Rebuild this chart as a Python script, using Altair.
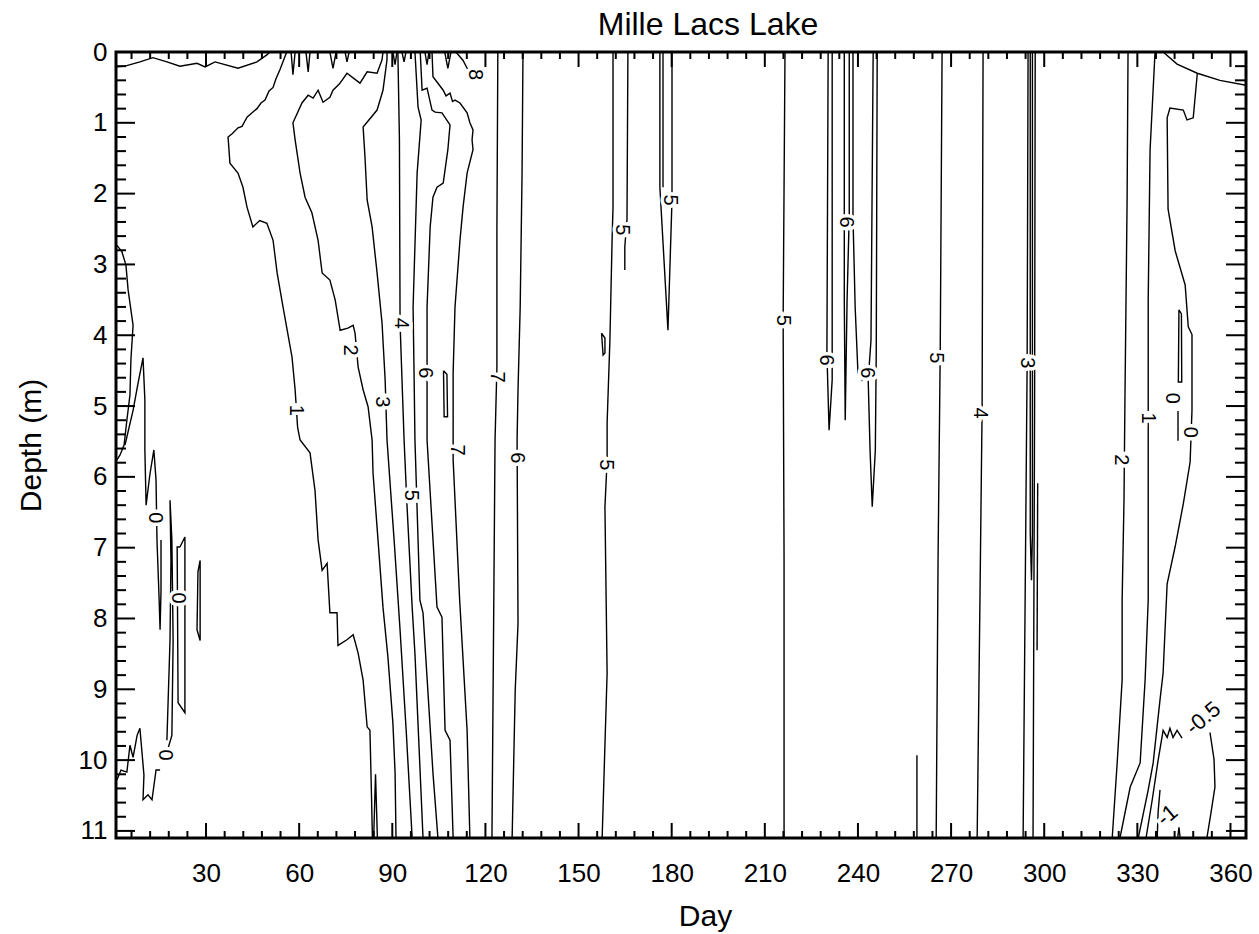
import altair as alt
import pandas as pd

# ---------------- axes ----------------
X_DOMAIN = [1, 365]
Y_DOMAIN = [0, 11.1]
x_tick_labels = [30, 60, 90, 120, 150, 180, 210, 240, 270, 300, 330, 360]
y_tick_labels = [0, 1, 2, 3, 4, 5, 6, 7, 8, 9, 10, 11]
x_major_ticks = [30, 60, 90, 120, 150, 180, 210, 240, 270, 300, 330, 360]
x_minor_ticks = [d for d in range(6, 365, 6) if d % 30]
y_major_ticks = [1, 2, 3, 4, 5, 6, 7, 8, 9, 10, 11]
y_minor_ticks = [round(0.2 * i, 1) for i in range(1, 56) if i % 5]

# ---------------- contour lines (day, depth) ----------------
surf_left = [(1.3,0.21),(3.9,0.2),(8.7,0.14),(12.9,0.08),(17.4,0.14),(21.6,0.2),(27.1,0.16),(29.7,0.21),(32.9,0.14),(40.3,0.23),(46.4,0.14),(49.6,0.04),(50.6,0.0)]
c1 = [(56.0,0.0),(53.8,0.25),(52.5,0.38),(51.6,0.5),(50.3,0.55),(49.0,0.68),(47.7,0.72),(46.4,0.8),(43.2,0.92),(41.6,1.05),(40.3,1.07),(38.5,1.15),(37.1,1.2),(37.7,1.57),(40.3,1.71),(41.9,1.91),(43.2,2.19),(45.1,2.47),(47.3,2.38),(49.6,2.42),(51.6,2.66),(52.9,3.12),(54.8,3.6),(57.7,4.31),(58.7,4.77),(59.5,5.3),(60.3,5.48),(63.5,5.66),(65.1,6.19),(66.1,6.89),(67.4,7.32),(69.0,7.22),(69.9,7.92),(72.2,7.92),(72.5,8.38),(75.4,8.3),(77.4,8.23),(79.0,8.49),(80.6,8.87),(81.9,9.53),(82.8,9.58),(83.3,10.5),(83.6,11.1)]
c1_spike = [(84.0,11.1),(84.6,10.2),(85.2,11.1)]
c2 = [(87.0,0.0),(86.7,0.11),(85.1,0.3),(81.9,0.28),(79.6,0.44),(75.4,0.3),(73.0,0.45),(70.9,0.54),(69.9,0.64),(67.7,0.71),(66.1,0.54),(64.5,0.65),(62.9,0.61),(60.9,0.72),(58.0,1.0),(58.7,1.24),(60.3,1.71),(61.9,2.05),(64.1,2.27),(66.1,2.66),(67.4,3.12),(69.9,3.22),(71.6,3.5),(73.2,3.93),(75.7,3.9),(77.4,3.86),(78.0,3.97),(79.0,4.45),(80.6,4.77),(82.2,5.01),(83.5,5.48),(83.8,5.95),(85.4,6.89),(87.0,7.84),(88.6,8.55),(90.2,9.48),(90.9,10.18),(91.2,11.1)]
c3 = [(88.3,0.0),(88.3,0.11),(87.0,0.54),(85.1,0.82),(80.6,1.06),(81.2,1.48),(81.9,2.09),(83.5,2.47),(85.1,3.12),(86.7,3.83),(87.7,4.63),(88.3,5.48),(90.6,6.9),(92.5,8.16),(94.5,9.6),(96.4,11.1)]
c4 = [(91.8,0.0),(92.3,1.24),(92.5,3.83),(93.8,5.48),(94.7,6.37),(96.4,7.84),(97.3,8.5),(99.9,11.1)]
c5 = [(97.3,0.0),(98.3,0.78),(99.3,0.96),(98.0,1.71),(96.7,3.6),(97.0,4.5),(97.3,5.48),(98.9,7.74),(99.9,7.92),(103.1,10.18),(104.7,11.1)]
c6 = [(99.0,0.0),(99.6,0.54),(101.2,0.51),(102.8,0.82),(103.8,0.85),(106.0,0.86),(108.6,1.03),(107.9,1.38),(106.4,1.85),(104.4,1.91),(103.1,2.05),(102.2,2.47),(101.2,3.6),(101.2,5.48),(104.4,7.84),(106.0,7.98),(107.0,9.58),(108.6,9.72),(109.6,11.1)]
c7 = [(102.8,0.0),(103.1,0.35),(106.4,0.54),(107.3,0.62),(108.6,0.58),(109.4,0.7),(110.2,0.68),(111.8,0.72),(114.1,0.86),(115.0,1.0),(116.0,1.1),(115.7,1.24),(116.0,1.38),(114.1,1.71),(112.8,2.19),(111.8,2.66),(110.2,3.6),(109.6,4.53),(109.6,5.76),(111.7,7.74),(114.1,9.58),(115.0,11.1)]
c8 = [(110.5,0.0),(112.8,0.12),(114.1,0.23),(115.5,0.26)]
loop107 = [(106.5,4.5),(107.6,4.55),(107.8,5.15),(106.7,5.15),(106.5,4.5)]
c7b = [(124.0,0.0),(123.7,2.5),(123.7,4.45),(123.1,5.48),(122.1,11.1)]
c6b = [(132.1,0.0),(131.8,1.71),(131.2,3.6),(130.5,4.77),(130.2,5.48),(130.5,8.07),(129.6,9.01),(128.6,11.1)]
c5b = [(161.1,0.0),(161.1,2.19),(160.8,2.66),(160.1,4.07),(159.2,5.24),(159.2,5.76),(158.5,6.43),(159.2,8.77),(157.6,11.1)]
loop158 = [(157.4,3.97),(158.5,4.04),(158.5,4.25),(157.9,4.28),(157.4,3.97)]
c5c = [(165.9,0.0),(165.6,2.37),(164.9,2.75),(164.9,3.08)]
c5d = [(176.2,0.0),(176.2,1.91),(178.8,3.93),(180.1,2.09),(180.1,0.0)]
c5d_in = [(177.2,0.0),(177.2,1.91)]
c5e = [(216.5,0.0),(215.9,3.79),(216.2,7.18),(216.2,11.1)]
c6c = [(230.4,0.0),(230.0,4.25),(230.7,5.34),(231.7,4.63),(231.7,0.0)]
c6d = [(235.6,0.0),(235.6,3.5),(235.9,5.2),(236.5,3.5),(237.2,2.3),(237.2,0.0)]
c6d_hook = [(238.4,0.0),(238.4,2.33),(239.1,3.6),(240.0,4.53),(241.3,4.63),(241.6,4.58)]
c6e = [(244.9,0.0),(244.2,4.07),(243.3,4.63),(243.9,5.62),(244.6,6.42),(245.6,5.62),(245.9,4.21),(246.2,0.0)]
c5f = [(267.1,0.0),(266.5,4.25),(265.8,7.18),(265.2,11.1)]
seg259 = [(259.0,9.93),(259.0,11.1)]
c4b = [(280.3,0.0),(280.0,5.01),(279.3,7.74),(278.4,11.1)]
c3b_left = [(294.8,0.0),(294.5,4.4),(293.2,11.1)]
c3b_loop = [(295.5,0.0),(295.5,6.8),(295.9,7.46),(296.2,6.8),(296.2,0.0)]
c3b_right = [(297.1,0.0),(296.9,5.0),(296.4,11.1)]
c3b_seg = [(297.9,6.09),(297.7,8.45)]
c2b = [(327.0,0.0),(326.7,2.09),(326.0,4.92),(325.7,6.33),(325.1,7.74),(325.1,8.87),(323.5,10.04),(321.9,11.1)]
c1b = [(335.7,0.0),(334.1,1.38),(333.5,3.5),(333.5,6.33),(333.5,7.74),(332.5,8.87),(330.9,10.04),(327.7,10.38),(324.4,11.1)]
c0b = [(349.3,0.31),(348.0,0.93),(346.0,0.96),(344.8,0.82),(340.5,0.79),(339.6,0.93),(339.9,2.22),(342.2,2.81),(345.4,3.29),(346.4,3.88),(347.6,3.99),(347.6,5.06),(347.0,5.79),(344.8,6.38),(342.2,6.98),(339.6,7.51),(338.3,8.77),(337.3,9.15),(335.1,10.04),(333.5,10.42),(330.3,11.1)]
surf_right = [(338.3,0.0),(342.8,0.17),(349.3,0.3),(356.6,0.4),(365.0,0.47)]
loop0 = [(343.4,3.64),(344.2,3.7),(344.3,4.66),(343.2,4.66),(343.4,3.64)]
seg0 = [(343.1,5.07),(343.1,5.49)]
cm05 = [(332.8,11.1),(334.8,10.56),(336.7,10.0),(338.3,9.58),(339.6,9.68),(340.5,9.55),(341.5,9.68),(342.8,9.58),(344.4,9.69)]
cm05b = [(353.4,9.61),(354.7,9.99),(355.0,10.38),(353.7,10.75),(352.4,11.1)]
cm1 = [(337.3,10.42),(336.7,10.73),(336.4,11.1)]
cm1_spike = [(343.0,11.1),(343.4,10.95),(343.8,11.1)]
p1 = [(1.3,2.73),(2.9,2.82),(4.2,3.01),(4.9,3.36),(6.5,3.86),(5.8,4.35),(5.5,4.84),(4.5,5.2),(3.6,5.55),(2.3,5.69),(1.3,5.76)]
p2 = [(3.9,5.55),(6.5,5.06),(8.0,4.7),(9.7,4.32),(10.3,4.91),(10.3,5.62),(10.7,6.4),(11.9,5.97),(13.2,5.62),(13.9,6.05),(14.2,6.89),(14.9,7.74),(15.2,8.16),(15.5,7.6),(15.5,6.89)]
p3 = [(21.6,6.99),(23.2,6.85),(23.2,9.33),(21.0,9.19),(20.7,6.99),(21.6,6.99)]
p4a = [(1.3,10.28),(2.6,10.14),(4.5,10.17),(5.5,9.79),(6.5,9.96),(7.8,9.65),(8.7,9.55),(10.0,10.21),(9.7,10.56),(11.3,10.49),(12.6,10.56),(13.9,10.14),(15.2,10.14)]
p4b = [(17.4,9.72),(17.8,9.15),(18.4,8.31),(18.7,7.18),(18.4,6.33),(19.0,6.89),(19.4,8.31),(19.0,9.65),(17.8,9.83)]
p5 = [(28.1,7.18),(28.1,8.31),(27.1,8.16),(27.4,7.34),(28.1,7.18)]
spikes = [
    [(57.4,0.0),(58.0,0.32),(58.7,0.0)],
    [(62.2,0.0),(62.9,0.28),(63.5,0.0)],
    [(69.9,0.0),(70.9,0.23),(71.9,0.0)],
    [(74.8,0.0),(75.4,0.14),(76.1,0.0)],
    [(90.2,0.0),(90.9,0.18),(91.5,0.0)],
    [(93.1,0.0),(93.8,0.14),(94.4,0.0)],
    [(100.5,0.0),(101.2,0.18),(101.8,0.0)],
    [(106.9,0.0),(107.9,0.23),(108.9,0.0)],
]

contours = [surf_left, c1, c1_spike, c2, c3, c4, c5, c6, c7, c8, loop107, c7b, c6b,
            c5b, loop158, c5c, c5d, c5d_in, c5e, c6c, c6d, c6d_hook, c6e, c5f, seg259,
            c4b, c3b_left, c3b_loop, c3b_right, c3b_seg, c2b, c1b, c0b, surf_right,
            loop0, seg0, cm05, cm05b, cm1, cm1_spike, p1, p2, p3, p4a, p4b, p5] + spikes

rows = []
for cid, pts in enumerate(contours):
    for k, (d, z) in enumerate(pts):
        rows.append({"cid": cid, "k": k, "day": d, "depth": z})
lines_df = pd.DataFrame(rows)

# ---------------- contour labels ----------------
lab_text = ["1","2","3","4","5","6","7","8","7","6","5","5","5","5","6","6","6","5","4","3","2","1","0","0","0","0","0"]
lab_day = [59.0,76.4,86.7,92.8,96.1,100.5,110.8,116.6,123.7,130.2,158.9,164.0,179.5,215.9,229.7,236.2,242.9,265.2,279.3,294.5,324.8,333.5,341.2,347.0,13.6,21.0,16.8]
lab_depth = [5.06,4.21,4.94,3.83,6.26,4.53,5.62,0.32,4.59,5.73,5.83,2.51,2.09,3.79,4.35,2.4,4.53,4.32,5.1,4.39,5.76,5.17,4.89,5.37,6.58,7.71,9.93]
diag_text = ["-0.5", "-1"]
diag_day = [351.2, 339.6]
diag_depth = [9.41, 10.78]

labels_df = pd.DataFrame({"text": lab_text, "day": lab_day, "depth": lab_depth})
diag_df = pd.DataFrame({"text": diag_text, "day": diag_day, "depth": diag_depth})

FONT = "Liberation Sans"
W, H = 1130, 786

xs = alt.Scale(domain=X_DOMAIN, nice=False, zero=False)
ys = alt.Scale(domain=Y_DOMAIN, nice=False, zero=False, reverse=True)

x_axis = alt.Axis(values=x_tick_labels, ticks=False, tickSize=0, domain=False, grid=False,
                  labelFont=FONT, labelFontSize=26, labelColor="black", labelPadding=22,
                  title="Day", titleFont=FONT, titleFontSize=30, titleFontWeight="normal",
                  titleColor="black", titleX=589, titleY=87, titleBaseline="alphabetic")
y_axis = alt.Axis(values=y_tick_labels, ticks=False, tickSize=0, domain=False, grid=False,
                  labelFont=FONT, labelFontSize=26, labelColor="black", labelPadding=9,
                  title="Depth (m)", titleFont=FONT, titleFontSize=30, titleFontWeight="normal",
                  titleColor="black", titleX=-76, titleY=393, titleBaseline="alphabetic", titleAngle=270)

X = alt.X("day:Q", scale=xs, axis=x_axis)
Y = alt.Y("depth:Q", scale=ys, axis=y_axis)

lines = alt.Chart(lines_df).mark_line(color="black", strokeWidth=1.4, clip=True).encode(
    x=X, y=Y, detail="cid:N", order="k:Q",
)

def xticks(vals, y0, y1):
    df = pd.DataFrame({"day": vals})
    return alt.Chart(df).mark_rule(color="black", strokeWidth=2).encode(
        x=X, y=alt.value(y0), y2=alt.value(y1))

def yticks(vals, x0, x1):
    df = pd.DataFrame({"depth": vals})
    return alt.Chart(df).mark_rule(color="black", strokeWidth=2).encode(
        y=Y, x=alt.value(x0), x2=alt.value(x1))

tick_layers = [
    xticks(x_major_ticks, H, H - 15), xticks(x_minor_ticks, H, H - 7),
    xticks(x_major_ticks, 0, 15), xticks(x_minor_ticks, 0, 7),
    yticks(y_major_ticks, 0, 19), yticks(y_minor_ticks, 0, 10),
    yticks(y_major_ticks, W, W - 20), yticks(y_minor_ticks, W, W - 11),
]

def text_layer(df, angle, halo, size):
    kw = dict(font=FONT, fontSize=size, angle=angle, align="center", baseline="middle")
    if halo:
        m = alt.Chart(df).mark_text(color="white", stroke="white", strokeWidth=7, **kw)
    else:
        m = alt.Chart(df).mark_text(color="black", **kw)
    return m.encode(x=X, y=Y, text="text:N")

chart = alt.layer(
    lines,
    text_layer(labels_df, 90, True, 20), text_layer(labels_df, 90, False, 20),
    text_layer(diag_df, 320, True, 22), text_layer(diag_df, 320, False, 22),
    *tick_layers,
).properties(
    width=W, height=H,
    padding={"left": 116, "top": 52, "right": 13, "bottom": 96},
    autosize=alt.AutoSizeParams(type="none"),
    title=alt.TitleParams("Mille Lacs Lake", font=FONT, fontSize=32, fontWeight="normal",
                          color="black", anchor="middle", dx=27, dy=45, offset=17,
                          baseline="alphabetic"),
).configure(background="white").configure_view(stroke="black", strokeWidth=3)

chart.save("out.html", embed_options={"renderer": "svg", "actions": False})
